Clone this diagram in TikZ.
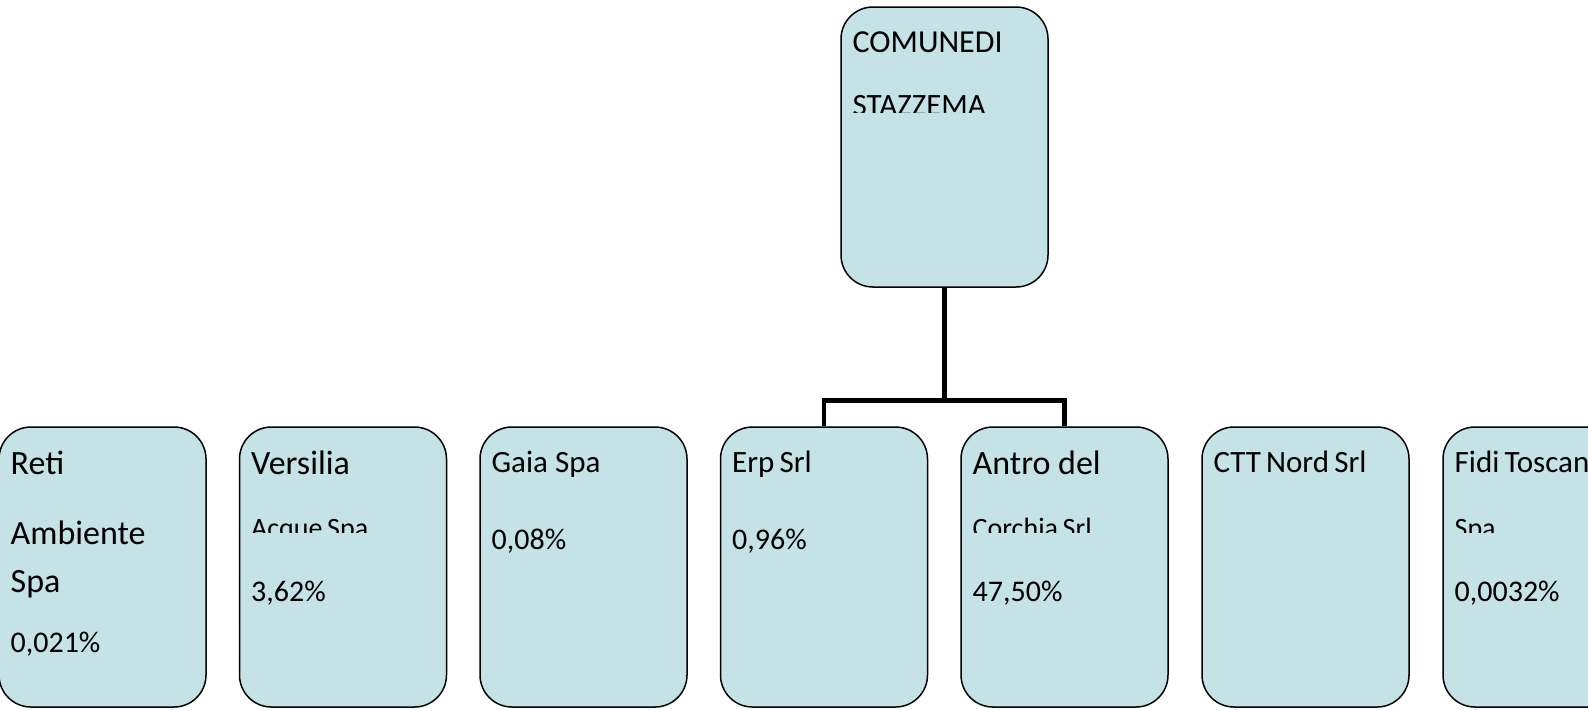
\documentclass[tikz,border=0pt]{standalone}
\usepackage{fontspec}
\setmainfont{Carlito}
\definecolor{boxfill}{RGB}{197,226,230}

\begin{document}
\begin{tikzpicture}[
        x=0.5pt, y=-0.5pt,
        box/.style={draw, fill=boxfill, rounded corners=16pt, line width=0.75pt,
            minimum width=103.5pt, minimum height=140pt, inner sep=0pt},
        bigtxt/.style={anchor=base west, inner sep=0pt, font=\fontsize{17}{20}\selectfont},
        txt/.style={anchor=base west, inner sep=0pt, font=\fontsize{15.5}{18}\selectfont},
        cuttxt/.style={anchor=base west, inner sep=0pt, font=\fontsize{14}{17}\selectfont},
        pcttxt/.style={anchor=base west, inner sep=0pt, font=\fontsize{15}{18}\selectfont},
        link/.style={draw, line width=2.3pt},
    ]
    \useasboundingbox (0,0) rectangle (1588,709);

    % the boxes
    \node[box](comune) at (944.5,147){};
    \node[box](reti) at (102.5,567){};
    \node[box](versilia) at (343,567){};
    \node[box](gaia) at (583.5,567){};
    \node[box](erp) at (824,567){};
    \node[box](antro) at (1064.5,567){};
    \node[box](ctt) at (1305.5,567){};
    \node[box](fidi) at (1546.5,567){};

    % the texts
    \node[txt, font=\fontsize{16}{19}\selectfont](comune1) at ([xshift=6pt,yshift=-23pt]comune.north west){COMUNEDI};
    \begin{scope}
        \clip (0,0) rectangle (1588,112);
        \node[txt](comune2) at ([xshift=6pt,yshift=-54.5pt]comune.north west){STAZZEMA};
    \end{scope}

    \node[bigtxt](reti1) at ([xshift=6pt,yshift=-24pt]reti.north west){Reti};
    \node[bigtxt](reti2) at ([xshift=6pt,yshift=-59pt]reti.north west){Ambiente};
    \node[bigtxt](reti3) at ([xshift=6pt,yshift=-83pt]reti.north west){Spa};
    \node[pcttxt](reti4) at ([xshift=6pt,yshift=-113pt]reti.north west){0,021\%};

    \node[bigtxt](versilia1) at ([xshift=6pt,yshift=-24pt]versilia.north west){Versilia};
    \node[pcttxt](versilia3) at ([xshift=6pt,yshift=-87.5pt]versilia.north west){3,62\%};

    \node[txt](gaia1) at ([xshift=6pt,yshift=-23pt]gaia.north west){Gaia Spa};
    \node[pcttxt](gaia2) at ([xshift=6pt,yshift=-61.5pt]gaia.north west){0,08\%};

    \node[txt](erp1) at ([xshift=6pt,yshift=-23pt]erp.north west){Erp\,Srl};
    \node[pcttxt](erp2) at ([xshift=6pt,yshift=-61.5pt]erp.north west){0,96\%};

    \node[bigtxt](antro1) at ([xshift=6pt,yshift=-24pt]antro.north west){Antro del};
    \node[pcttxt](antro3) at ([xshift=6pt,yshift=-87.5pt]antro.north west){47,50\%};

    \node[txt](ctt1) at ([xshift=6pt,yshift=-23pt]ctt.north west){CTT\,Nord\,Srl};

    \node[txt](fidi1) at ([xshift=6pt,yshift=-23pt]fidi.north west){Fidi\,Toscana};
    \node[pcttxt](fidi3) at ([xshift=6pt,yshift=-87.5pt]fidi.north west){0,0032\%};

    \begin{scope}
        \clip (0,0) rectangle (1588,532);
        \node[cuttxt](versilia2) at ([xshift=6pt,yshift=-55.5pt]versilia.north west){Acque\,Spa};
        \node[cuttxt](antro2) at ([xshift=6pt,yshift=-55.5pt]antro.north west){Corchia\,Srl};
        \node[cuttxt](fidi2) at ([xshift=6pt,yshift=-55.5pt]fidi.north west){Spa};
    \end{scope}

    % connectors
    \coordinate (fork) at ([yshift=-56.5pt]comune.south);
    \draw[link] (comune.south) -- (fork) -| (erp.north);
    \draw[link] (fork) -| (antro.north);

\end{tikzpicture}
\end{document}
